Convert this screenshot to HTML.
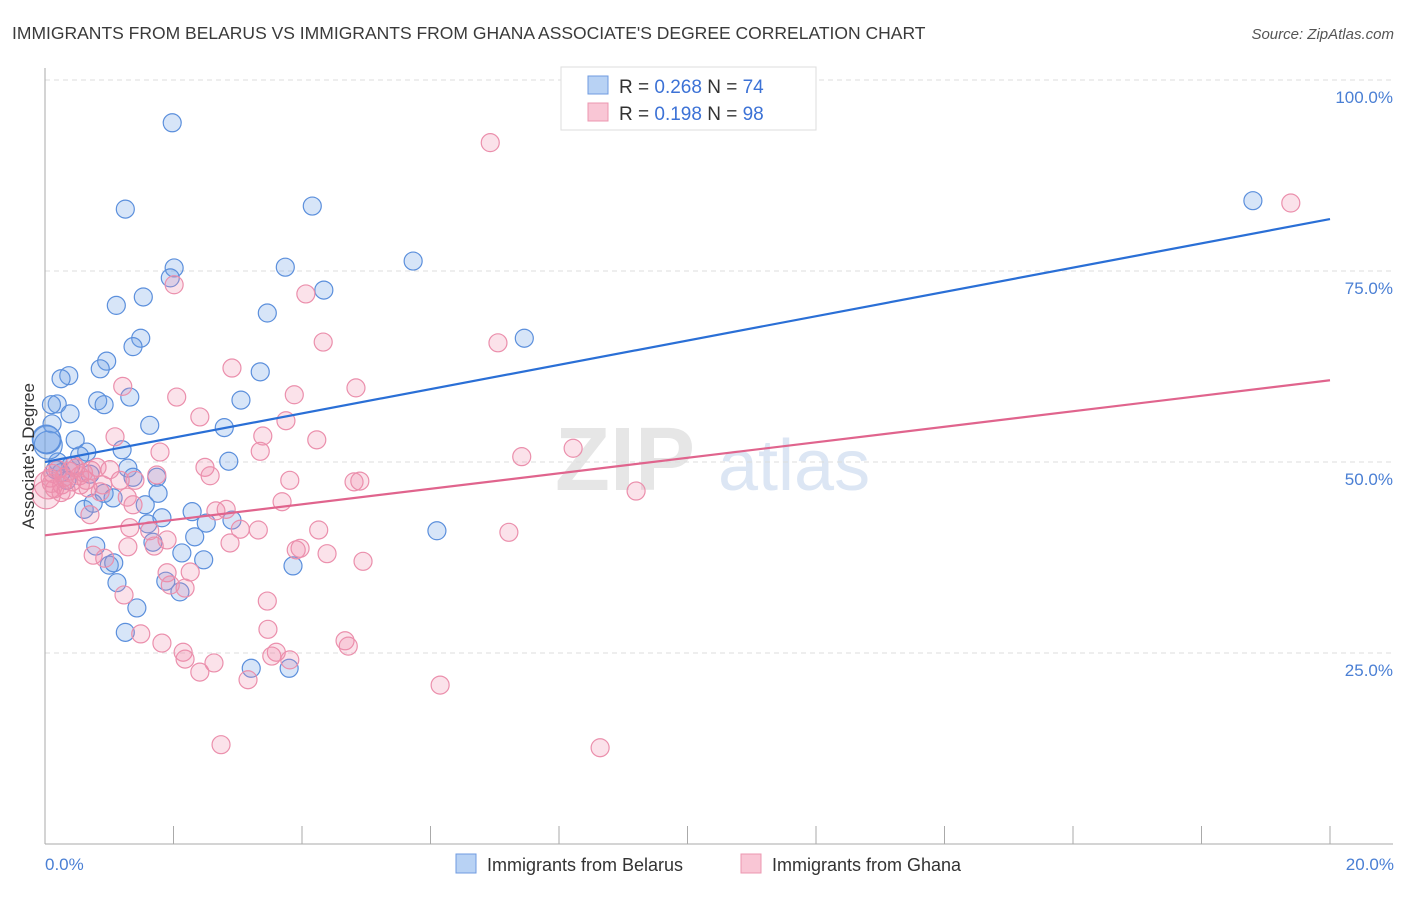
<!DOCTYPE html>
<html><head><meta charset="utf-8"><style>
body{margin:0;background:#fff;font-family:"Liberation Sans",sans-serif}
svg text{font-family:"Liberation Sans",sans-serif}
</style></head><body>
<svg id="chart" width="1406" height="892" xmlns="http://www.w3.org/2000/svg">
<text x="12" y="39" font-size="17.5" fill="#3a3a3a">IMMIGRANTS FROM BELARUS VS IMMIGRANTS FROM GHANA ASSOCIATE'S DEGREE CORRELATION CHART</text>
<text x="1394" y="39" font-size="15" fill="#555" text-anchor="end" font-style="italic">Source: ZipAtlas.com</text>
<g>
<text x="555" y="490" font-size="90" fill="#e6e6e6" font-family="Liberation Serif" font-weight="bold">ZIP</text>
<text x="718" y="490" font-size="72" fill="#dce6f4">atlas</text>
</g>
<g id="grid"></g>
<g id="axes"></g>
<g id="pts"></g>
<g id="lines"></g>
<text transform="translate(34,456) rotate(-90)" font-size="17" fill="#333" text-anchor="middle">Associate's Degree</text>
<text x="45" y="870" font-size="17" fill="#4a7fd4">0.0%</text>
<text x="1394" y="870" font-size="17" fill="#4a7fd4" text-anchor="end">20.0%</text>
<g>
<rect x="561" y="67" width="255" height="63" fill="#fff" stroke="#ddd"/>
<rect x="588" y="76" width="20" height="18" fill="#b8d2f4" stroke="#6f9be0"/>
<rect x="588" y="103" width="20" height="18" fill="#f9c6d5" stroke="#ec97b0"/>
<text x="619" y="93" font-size="19" fill="#333">R = <tspan fill="#3c72d6">0.268</tspan>   N = <tspan fill="#3c72d6">74</tspan></text>
<text x="619" y="120" font-size="19" fill="#333">R =  <tspan fill="#3c72d6">0.198</tspan>   N = <tspan fill="#3c72d6">98</tspan></text>
</g>
<g>
<rect x="456" y="854" width="20" height="19" fill="#b8d2f4" stroke="#6f9be0"/>
<text x="487" y="871" font-size="18" fill="#333">Immigrants from Belarus</text>
<rect x="741" y="854" width="20" height="19" fill="#f9c6d5" stroke="#ec97b0"/>
<text x="772" y="871" font-size="18" fill="#333">Immigrants from Ghana</text>
</g>
</svg>
<script>
const yTicks=[25,50,75,100];
const yTickLabels=["25.0%","50.0%","75.0%","100.0%"];
const xTicks=[0,2,4,6,8,10,12,14,16,18,20];
const blueX=[1.98,1.25,4.16,2.01,1.95,3.74,5.73,4.34,1.11,1.53,3.46,1.49,1.37,7.46,0.96,0.86,3.35,0.37,0.25,1.32,0.82,0.92,0.19,3.05,0.39,1.63,0.11,2.79,0.47,0.03,1.20,0.65,0.54,2.86,0.20,0.40,1.29,0.70,1.37,0.92,1.74,1.06,1.76,1.56,0.61,2.29,1.60,1.82,2.51,2.91,6.10,2.33,0.79,1.68,2.13,2.47,1.00,1.07,3.86,1.12,1.88,2.10,1.43,1.25,3.21,3.80,0.75,0.34,0.25,0.05,0.16,18.80,0.02,0.10];
const blueY=[94.4,83.1,83.5,75.4,74.1,75.5,76.3,72.5,70.5,71.6,69.5,66.2,65.1,66.2,63.2,62.2,61.8,61.3,60.9,58.5,58.0,57.5,57.6,58.1,56.3,54.8,55.0,54.5,52.9,52.9,51.6,51.3,50.8,50.1,50.0,49.5,49.2,48.4,48.0,45.9,48.0,45.3,45.9,44.4,43.8,43.5,41.9,42.7,42.0,42.4,41.0,40.2,39.0,39.5,38.1,37.2,36.5,36.8,36.4,34.2,34.4,33.0,30.9,27.7,23.0,23.0,44.6,47.6,48.6,52.2,49.0,84.2,53.0,57.5];
const pinkX=[6.93,19.39,2.01,4.06,4.33,7.05,2.91,4.84,1.21,2.05,3.88,2.41,3.75,1.09,3.39,4.23,3.35,1.79,8.22,7.42,0.81,2.49,2.57,3.81,4.81,4.90,1.74,1.40,0.86,1.28,1.37,2.82,2.66,3.69,9.20,0.70,1.32,1.90,1.63,3.04,3.32,4.26,7.22,2.88,1.29,1.70,3.91,3.97,4.39,4.95,0.75,0.93,2.26,1.90,2.18,1.95,1.23,3.46,3.47,1.49,1.82,2.15,2.63,2.18,2.41,3.16,3.60,3.53,3.81,4.67,4.72,6.15,8.64,2.74,0.20,0.08,0.26,0.42,0.54,0.67,0.02,0.33,1.17,1.01,0.48,0.64,0.12,0.30,0.05,0.55,0.15,0.38,0.72,0.90,0.25,0.45,0.10,0.60];
const pinkY=[91.8,83.9,73.2,72.0,65.7,65.6,62.3,59.7,59.9,58.5,58.8,55.9,55.4,53.3,53.4,52.9,51.4,51.3,51.8,50.7,49.3,49.3,48.2,47.6,47.4,47.5,48.3,47.6,46.1,45.4,44.4,43.8,43.6,44.8,46.2,43.1,41.4,39.8,41.0,41.2,41.1,41.1,40.8,39.4,38.9,39.0,38.5,38.7,38.0,37.0,37.8,37.4,35.6,35.5,33.5,33.9,32.6,31.8,28.1,27.5,26.3,25.1,23.7,24.2,22.5,21.5,25.1,24.6,24.1,26.6,25.9,20.8,12.6,13.0,49.0,47.9,47.0,47.4,48.2,46.6,45.7,46.3,47.6,49.0,49.2,47.6,48.5,48.0,47.0,47.0,46.5,48.8,48.9,47.0,46.0,49.5,47.2,48.6];
const blueLine=[50.0,81.8];
const pinkLine=[40.4,60.7];
const NS="http://www.w3.org/2000/svg";
const X0=45,X1=1330,Y0=844,Y100=80;
const sx=v=>X0+(v/20)*(X1-X0);
const sy=v=>Y0-(v/100)*(Y0-Y100);
function mk(t,a,p){const e=document.createElementNS(NS,t);for(const k in a)e.setAttribute(k,a[k]);p.appendChild(e);return e;}
const grid=document.getElementById('grid');
yTicks.forEach((t,i)=>{
 const l=mk('line',{x1:X0,x2:1393,y1:sy(t),y2:sy(t),stroke:'#ddd','stroke-dasharray':'5,4'},grid);
 
 
 const tx=mk('text',{x:1393,y:sy(t)+23,'font-size':17,fill:'#4a7fd4','text-anchor':'end'},grid);
 tx.textContent=yTickLabels[i];
 
 
});
const axes=document.getElementById('axes');
mk('line',{x1:X0,x2:X0,y1:68,y2:Y0,stroke:'#aaa'},axes);
mk('line',{x1:X0,x2:1393,y1:Y0,y2:Y0,stroke:'#aaa'},axes);
xTicks.forEach(t=>{
 const l=mk('line',{x1:sx(t),x2:sx(t),y1:826,y2:Y0,stroke:'#aaa'},axes);
 
 
});
const pts=document.getElementById('pts');
function drawPts(xs,ys,fill,stroke,name){
 xs.forEach((x,i)=>{
  const big=x<0.06;
  const c=mk('circle',{cx:sx(x),cy:sy(ys[i]),r:big?14:9,fill:fill,stroke:stroke,'stroke-width':1.2},pts);
  
  
 });
}
drawPts(blueX,blueY,'rgba(110,160,230,0.28)','#5b8fdc','point-belarus');
drawPts(pinkX,pinkY,'rgba(240,140,170,0.25)','#eb8fac','point-ghana');
const lines=document.getElementById('lines');
const bl=mk('line',{x1:sx(0),y1:sy(blueLine[0]),x2:sx(20),y2:sy(blueLine[1]),stroke:'#2a6fd6','stroke-width':2.2},lines);


const pl=mk('line',{x1:sx(0),y1:sy(pinkLine[0]),x2:sx(20),y2:sy(pinkLine[1]),stroke:'#e0648d','stroke-width':2.2},lines);


</script>
</body></html>
